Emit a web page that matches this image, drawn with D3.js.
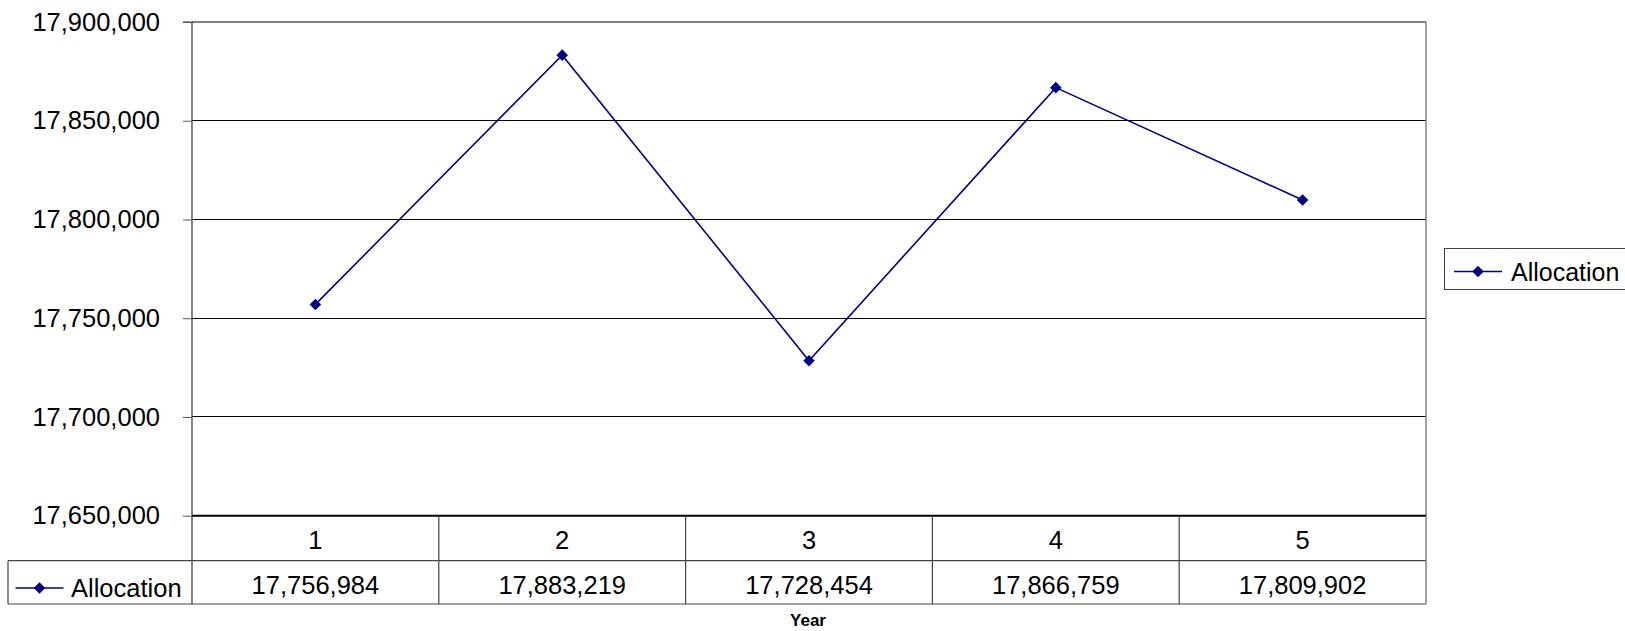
<!DOCTYPE html>
<html>
<head>
<meta charset="utf-8">
<script src="https://cdn.jsdelivr.net/npm/d3@7/dist/d3.min.js"></script>
<style>
  html, body { margin: 0; padding: 0; background: #fff; }
  svg { display: block; }
  text { font-family: "Liberation Sans", Arial, sans-serif; fill: #000; }
</style>
</head>
<body>
<svg id="chart" width="1625" height="631"></svg>
<script>
// Yearly allocation figures
const years = ["1", "2", "3", "4", "5"];
const allocation = [17756984, 17883219, 17728454, 17866759, 17809902];
const seriesName = "Allocation";
const yTicks = [17650000, 17700000, 17750000, 17800000, 17850000, 17900000];
const xTitle = "Year";

const svg = d3.select("#chart");
const plot = { left: 192, right: 1426, top: 22, bottom: 515.7 };
const table = { rowMid: 560.7, bottom: 604, labelLeft: 8 };
const navy = "#000080";
const fmt = d3.format(",");

const x = d3.scaleBand().domain(years).range([plot.left, plot.right]);
const y = d3.scaleLinear().domain([17650000, 17900000]).range([plot.bottom, plot.top]);

// Horizontal gridlines
svg.append("g").selectAll("line")
  .data(yTicks.filter(v => v !== 17650000))
  .join("line")
  .attr("x1", plot.left).attr("x2", plot.right)
  .attr("y1", d => y(d)).attr("y2", d => y(d))
  .attr("stroke", d => d === 17900000 ? "#808080" : "#000")
  .attr("stroke-width", d => d === 17900000 ? 1.5 : 1)
  .attr("shape-rendering", "crispEdges");

// Right border of the plot area
svg.append("line")
  .attr("x1", plot.right).attr("x2", plot.right)
  .attr("y1", plot.top).attr("y2", plot.bottom)
  .attr("stroke", "#808080").attr("stroke-width", 1.5);

// Y axis
const yAxis = d3.axisLeft(y).tickValues(yTicks).tickFormat(fmt).tickSize(9).tickPadding(23);
const gy = svg.append("g").attr("transform", `translate(${plot.left},0)`).call(yAxis);
gy.select(".domain").attr("stroke", "#333").attr("stroke-width", 1.2).attr("d", `M-9,${plot.top}H0V${table.bottom}`);
gy.selectAll(".tick line").attr("stroke", "#555");
gy.selectAll(".tick text")
  .style("font-family", '"Liberation Sans", Arial, sans-serif')
  .style("font-size", "25.5px").attr("fill", "#000");

// Data table beneath the plot
const tg = svg.append("g");
// Bottom axis line (heavier)
tg.append("line")
  .attr("x1", plot.left).attr("x2", plot.right)
  .attr("y1", plot.bottom).attr("y2", plot.bottom)
  .attr("stroke", "#000").attr("stroke-width", 2);
// Row separator and bottom edge
tg.append("line").attr("x1", table.labelLeft).attr("x2", plot.right)
  .attr("y1", table.rowMid).attr("y2", table.rowMid)
  .attr("stroke", "#444").attr("stroke-width", 1.2);
tg.append("line").attr("x1", table.labelLeft).attr("x2", plot.right)
  .attr("y1", table.bottom).attr("y2", table.bottom)
  .attr("stroke", "#444").attr("stroke-width", 1.2);
// Left edge of the series label cell
tg.append("line").attr("x1", table.labelLeft).attr("x2", table.labelLeft)
  .attr("y1", table.rowMid).attr("y2", table.bottom)
  .attr("stroke", "#444").attr("stroke-width", 1.2);
// Column dividers
tg.selectAll("line.col")
  .data(years)
  .join("line").attr("class", "col")
  .attr("x1", d => x(d) + x.bandwidth()).attr("x2", d => x(d) + x.bandwidth())
  .attr("y1", plot.bottom).attr("y2", table.bottom)
  .attr("stroke", d => d === years[years.length - 1] ? "#808080" : "#444")
  .attr("stroke-width", d => d === years[years.length - 1] ? 1.5 : 1.2);

// Category labels
tg.selectAll("text.cat")
  .data(years)
  .join("text").attr("class", "cat")
  .attr("x", d => x(d) + x.bandwidth() / 2)
  .attr("y", 548.5)
  .attr("text-anchor", "middle")
  .style("font-size", "25.5px")
  .text(d => d);

// Value labels
tg.selectAll("text.val")
  .data(allocation)
  .join("text").attr("class", "val")
  .attr("x", (d, i) => x(years[i]) + x.bandwidth() / 2)
  .attr("y", 594)
  .attr("text-anchor", "middle")
  .style("font-size", "25.5px")
  .text(d => fmt(d));

// Diamond symbol shared by series, table key and legend
const diamond = d3.symbol().type(d3.symbolDiamond2).size(85);
function key(g, cx, cy) {
  g.append("line").attr("x1", cx - 24).attr("x2", cx + 24)
    .attr("y1", cy).attr("y2", cy).attr("stroke", navy).attr("stroke-width", 1.5);
  g.append("path").attr("d", diamond()).attr("transform", `translate(${cx},${cy})`).attr("fill", navy);
}
key(tg, 39.5, 588);
tg.append("text").attr("x", 71).attr("y", 597).style("font-size", "25.5px").text(seriesName);

// Series line
const line = d3.line()
  .x((d, i) => x(years[i]) + x.bandwidth() / 2)
  .y(d => y(d));
svg.append("path").datum(allocation)
  .attr("d", line).attr("fill", "none")
  .attr("stroke", navy).attr("stroke-width", 1.6);
svg.append("g").selectAll("path")
  .data(allocation)
  .join("path")
  .attr("d", diamond())
  .attr("transform", (d, i) => `translate(${x(years[i]) + x.bandwidth() / 2},${y(d)})`)
  .attr("fill", navy);

// Legend
const lg = svg.append("g");
lg.append("rect").attr("x", 1444.5).attr("y", 248.5).attr("width", 190).attr("height", 41)
  .attr("fill", "#fff").attr("stroke", "#444").attr("stroke-width", 1);
key(lg, 1478, 271.5);
lg.append("text").attr("x", 1511).attr("y", 280.5).style("font-size", "25px").text(seriesName);

// Axis title
svg.append("text")
  .attr("x", 808).attr("y", 626)
  .attr("text-anchor", "middle")
  .style("font-size", "17px").style("font-weight", "bold")
  .text(xTitle);
</script>
</body>
</html>
